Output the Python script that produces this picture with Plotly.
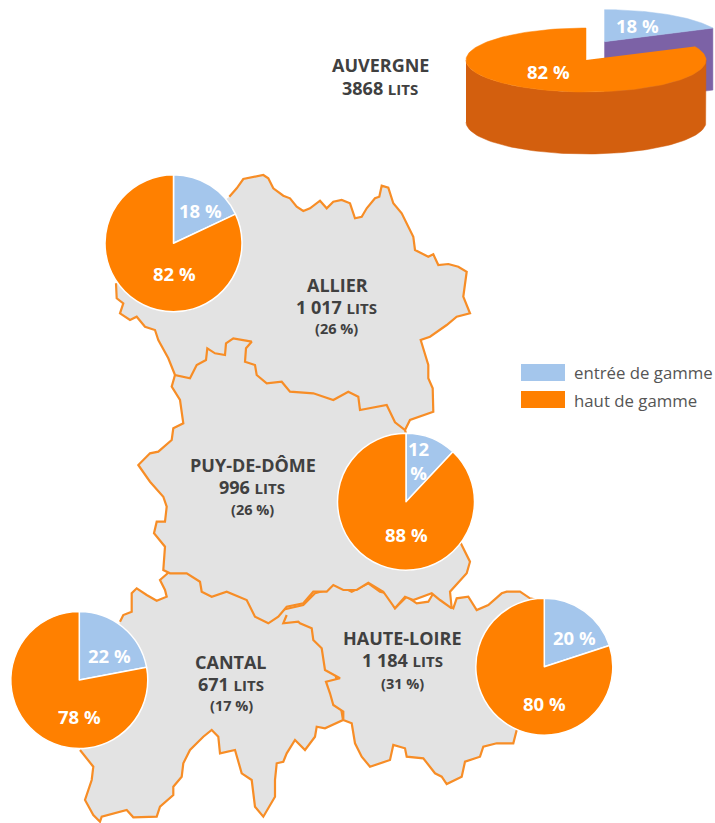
import math
import plotly.graph_objects as go

W, H = 715, 823
ORANGE = "#FF8000"; BLUE = "#A4C6EC"; PURPLE = "#7C62A6"; DARK_ORANGE = "#D35F0E"
GREY = "#E3E3E3"; STROKE = "#F78D26"; TEXT = "#404040"
BOLD_FONT = "Open Sans"

LEGEND_LABELS = ["entrée de gamme", "haut de gamme"]
DEPARTMENTS = ["ALLIER", "PUY-DE-DÔME", "CANTAL", "HAUTE-LOIRE"]
BEDS = ["1 017", "996", "671", "1 184"]
BED_SHARE = ["(26 %)", "(26 %)", "(17 %)", "(31 %)"]
ENTRY_PCT = [18, 12, 22, 20]
TOP_PCT = [82, 88, 78, 80]
AUVERGNE_ENTRY = 18
AUVERGNE_TOP = 82
AUVERGNE_BEDS = "3868"

# Department outlines, each list in page pixels
ALLIER_PTS = [(388,95),(410,70),(430,42),(460,35),(490,30),(505,40),(520,70),(550,92),(570,100),(590,125),(610,138),(630,130),(660,107),(680,130),(700,110),(725,105),(750,115),(765,160),(785,155),(800,130),(825,100),(838,95),(845,62),(865,68),(880,115),(905,145),(925,185),(940,215),(945,255),(985,275),(1000,268),(1015,300),(1045,297),(1075,305),(1100,320),(1095,365),(1090,395),(1110,445),(1070,455),(1040,480),(990,515),(962,525),(985,600),(985,640),(998,670),(1000,740),(930,765),(915,795),(885,772),(860,720),(780,735),(775,695),(745,680),(700,705),(640,685),(570,680),(545,650),(500,655),(470,630),(465,600),(435,590),(438,550),(455,530),(400,520),(378,535),(375,570),(345,565),(322,550),(318,585),(290,600),(270,640),(225,630),(205,580),(175,525),(165,495),(135,485),(110,455),(90,465),(60,445),(70,415),(50,400),(48,355)]
ALLIER_X = [round(p[0]/3+100, 1) for p in ALLIER_PTS]
ALLIER_Y = [round(p[1]/3+165, 1) for p in ALLIER_PTS]

PUY_PTS = [(135,-75),(125,-40),(150,0),(160,70),(130,85),(125,120),(85,155),(60,160),(25,195),(60,245),(100,290),(110,320),(105,365),(80,365),(72,400),(105,440),(100,510),(120,520),(170,520),(210,545),(215,575),(245,590),(290,575),(350,600),(375,650),(415,670),(445,650),(470,620),(520,610),(550,575),(590,575),(610,555),(640,570),(680,570),(715,548),(760,575),(795,625),(825,590),(850,600),(905,580),(930,600),(965,625),(960,575),(1010,520),(1020,485),(990,425),(828,100),(825,90),(780,-195),(210,-195)]
PUY_X = [round(p[0]/3+130, 1) for p in PUY_PTS]
PUY_Y = [round(p[1]/3+400, 1) for p in PUY_PTS]

CANTAL_PTS = [(360,125),(370,105),(395,95),(395,40),(410,25),(440,45),(470,62),(500,50),(495,30),(480,0),(600,-105),(870,-105),(990,180),(1029,420),(975,445),(950,440),(945,470),(915,510),(885,480),(860,520),(850,545),(830,550),(825,600),(825,650),(790,710),(765,680),(755,600),(725,580),(705,510),(660,520),(655,470),(635,450),(610,470),(570,510),(550,550),(545,590),(520,620),(520,645),(480,680),(470,710),(400,712),(380,690),(305,710),(300,725),(280,705),(255,660),(275,600),(280,560),(240,510)]
CANTAL_X = [round(p[0]/3, 1) for p in CANTAL_PTS]
CANTAL_Y = [round(p[1]/3+580, 1) for p in CANTAL_PTS]

LOIRE_PTS = [(5,90),(70,75),(105,40),(140,30),(155,15),(175,15),(215,35),(265,10),(300,35),(320,40),(345,85),(380,50),(410,70),(445,65),(460,40),(490,65),(520,85),(530,55),(565,50),(590,90),(625,75),(665,40),(680,35),(720,35),(750,55),(775,60),(710,450),(700,490),(650,490),(610,500),(600,530),(570,540),(555,545),(545,590),(500,612),(485,590),(465,580),(430,535),(380,530),(375,505),(340,495),(330,540),(270,560),(245,530),(225,490),(215,430),(190,420),(190,395),(160,375),(150,340),(138,305),(180,295),(135,270),(125,205),(100,180),(95,145),(60,130),(55,125),(10,130),(20,105)]
LOIRE_X = [round(p[0]/3+280, 1) for p in LOIRE_PTS]
LOIRE_Y = [round(p[1]/3+580, 1) for p in LOIRE_PTS]

PIE_CX = [173.5, 406, 79.3, 544.3]
PIE_CY = [243.3, 501.7, 680, 666.7]
PIE_R = 68.5

fig = go.Figure()

# ---------- 3D Auvergne pie ----------
CX, CY, RX, RY, DEPTH = 586, 60, 120, 32, 62
BX, BY = 604.3, 41.7
cut = math.radians(90 - 360 * AUVERGNE_ENTRY / (AUVERGNE_ENTRY + AUVERGNE_TOP))

def arc(cx, cy, a0, a1, n=80):
    xs, ys = [], []
    for i in range(n + 1):
        t = a0 + (a1 - a0) * i / n
        xs.append(cx + RX * math.cos(t)); ys.append(cy - RY * math.sin(t))
    return xs, ys

def poly(xs, ys, color, line=None):
    fig.add_trace(go.Scatter(x=xs, y=ys, mode="lines", fill="toself", fillcolor=color,
                             line=dict(color=line or color, width=0.5 if not line else 2.2),
                             hoverinfo="skip", showlegend=False))

ex, ey = BX + RX * math.cos(cut), BY - RY * math.sin(cut)
poly([BX, ex, ex, BX], [BY, ey, ey + DEPTH, BY + DEPTH], PURPLE)
ax, ay = arc(BX, BY, cut, math.pi / 2)
poly([BX] + ax, [BY] + ay, BLUE)
ax, ay = arc(CX, CY, math.pi, 2 * math.pi)
poly(ax + ax[::-1], ay + [v + DEPTH for v in ay[::-1]], DARK_ORANGE)
ax, ay = arc(CX, CY, math.pi / 2, 2 * math.pi + cut, 160)
poly([CX] + ax, [CY] + ay, ORANGE)

# ---------- Map ----------
poly(CANTAL_X, CANTAL_Y, GREY, STROKE)
poly(LOIRE_X, LOIRE_Y, GREY, STROKE)
poly(PUY_X, PUY_Y, GREY, STROKE)
poly(ALLIER_X, ALLIER_Y, GREY, STROKE)

# ---------- Pies ----------
for i in range(4):
    fig.add_trace(go.Pie(
        labels=LEGEND_LABELS, values=[ENTRY_PCT[i], TOP_PCT[i]], sort=False, direction="clockwise",
        rotation=0, textinfo="none", hoverinfo="label+percent", showlegend=False,
        marker=dict(colors=[BLUE, ORANGE], line=dict(color="white", width=1.5)),
        domain=dict(x=[(PIE_CX[i] - PIE_R) / W, (PIE_CX[i] + PIE_R) / W],
                    y=[1 - (PIE_CY[i] + PIE_R) / H, 1 - (PIE_CY[i] - PIE_R) / H])))

ann = []
def txt(x, y, s, size, color=TEXT, anchor="center", family=BOLD_FONT):
    ann.append(dict(x=x, y=y, xref="x", yref="y", text=s, showarrow=False, xanchor=anchor, yanchor="middle",
                    font=dict(family=family, size=size, color=color)))

def lits(n):
    return f"<b>{n} </b><b><span style='font-size:15px'>LITS</span></b>"

TITLE_POS = [(337, 285), (253, 465), (231, 662), (402, 638)]
BEDS_POS = [(336, 307), (252, 487), (231, 684), (402, 660)]
SHARE_POS = [(336, 328), (252, 509), (231, 705), (402, 683)]
for i in range(4):
    txt(*TITLE_POS[i], f"<b>{DEPARTMENTS[i]}</b>", 18)
    txt(*BEDS_POS[i], lits(BEDS[i]), 18)
    txt(*SHARE_POS[i], f"<b>{BED_SHARE[i]}</b>", 14.5)
txt(380, 65, "<b>AUVERGNE</b>", 18)
txt(380, 88, lits(AUVERGNE_BEDS), 18)

W_TXT = "white"
ENTRY_POS = [(200, 210), None, (109, 655), (574, 637)]
TOP_POS = [(174, 273), (406, 534), (79, 716), (544, 703)]
for i in range(4):
    if ENTRY_POS[i]:
        txt(*ENTRY_POS[i], f"<b>{ENTRY_PCT[i]} %</b>", 18.5, W_TXT)
    txt(*TOP_POS[i], f"<b>{TOP_PCT[i]} %</b>", 18.5, W_TXT)
txt(418, 460, f"<b>{ENTRY_PCT[1]}<br>%</b>", 18.5, W_TXT)
txt(637, 25, f"<b>{AUVERGNE_ENTRY} %</b>", 18.5, W_TXT)
txt(548, 71, f"<b>{AUVERGNE_TOP} %</b>", 18.5, W_TXT)

txt(572, 372, LEGEND_LABELS[0], 16.8, "#555555", "left")
txt(572, 400, LEGEND_LABELS[1], 16.8, "#555555", "left")

shapes = [
    dict(type="rect", xref="x", yref="y", x0=521, x1=565, y0=364, y1=381, fillcolor=BLUE, line_width=0),
    dict(type="rect", xref="x", yref="y", x0=521, x1=565, y0=391, y1=408, fillcolor=ORANGE, line_width=0),
]

fig.update_layout(
    width=W, height=H, margin=dict(l=0, r=0, t=0, b=0), paper_bgcolor="white", plot_bgcolor="white",
    showlegend=False, annotations=ann, shapes=shapes,
    xaxis=dict(range=[0, W], visible=False, fixedrange=True, domain=[0, 1]),
    yaxis=dict(range=[H, 0], visible=False, fixedrange=True, domain=[0, 1]),
)
fig.write_html("out.html", config=dict(displayModeBar=False),
               post_script="document.body.style.margin='0';document.documentElement.style.overflow='hidden';")
